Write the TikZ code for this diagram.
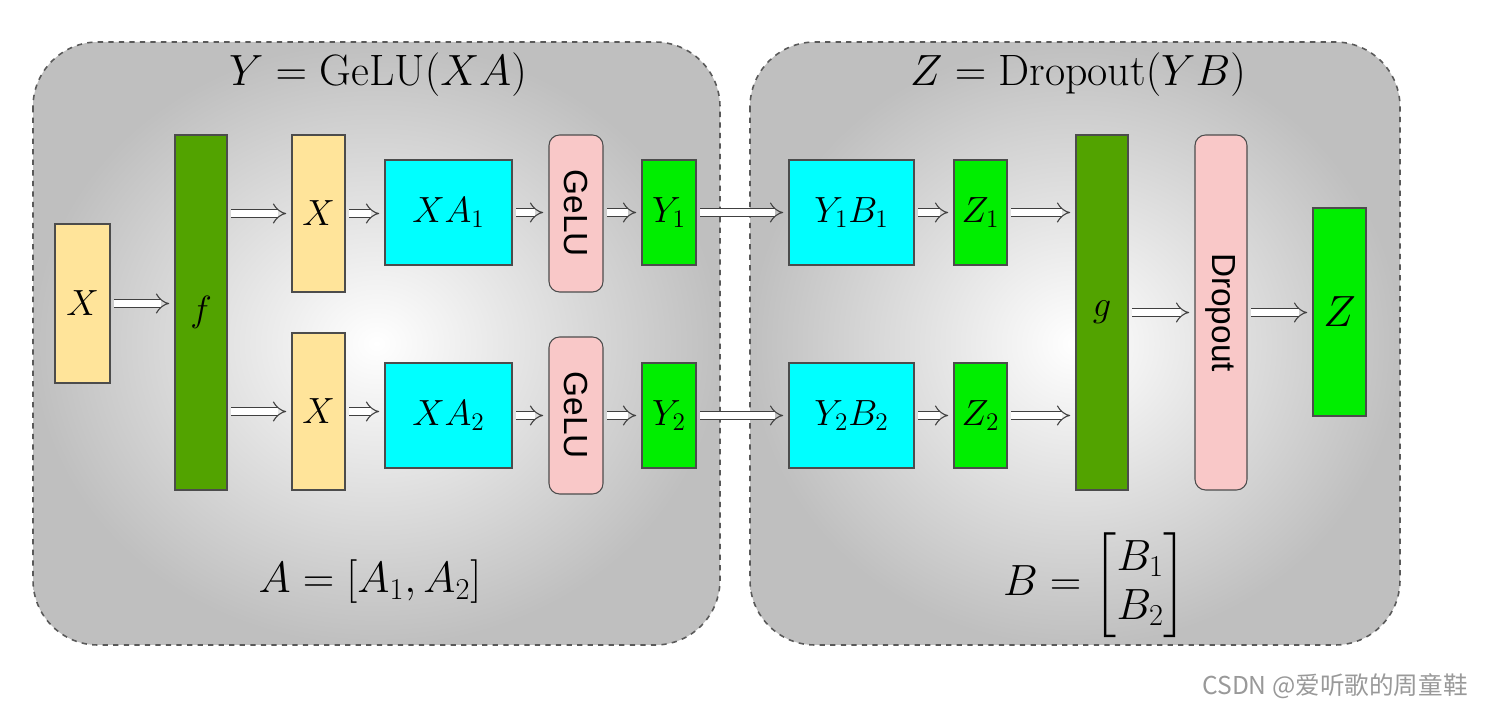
\documentclass[tikz,border=0pt]{standalone}
\usepackage{fontspec}
\usepackage{amsmath}
\setsansfont{Liberation Sans}
\newfontfamily\cjkfont{Noto Sans CJK SC}
\usetikzlibrary{arrows.meta}
\definecolor{cyel}{HTML}{FFE49A}
\definecolor{cdg}{HTML}{52A300}
\definecolor{ccy}{HTML}{00FFFF}
\definecolor{cpk}{HTML}{F9C8C8}
\definecolor{cbg}{HTML}{00EE00}
\begin{document}
\begin{tikzpicture}[x=0.02cm,y=-0.02cm,
  wh/.style 2 args={minimum width=#1*0.02cm, minimum height=#2*0.02cm, inner sep=0pt},
  box/.style={draw=black!70, line width=0.6pt, font=\fontsize{21}{23}\selectfont},
  yel/.style={box, fill=cyel},
  dg/.style={box, fill=cdg},
  cy/.style={box, fill=ccy},
  bg/.style={box, fill=cbg},
  pk/.style={box, fill=cpk, rounded corners=6pt, font=\sffamily\fontsize{19}{21}\selectfont},
  panel/.style={draw=black!65, dashed, line width=0.9pt, rounded corners=1.3cm, inner color=white, middle color=black!8, outer color=black!25},
  dar/.style={draw=black!75, line width=0.6pt, double=white, double distance=3.5pt, -{Implies}, shorten >=3pt, shorten <=2pt}]
\useasboundingbox (0,0) rectangle (1492,712);
\shade[panel] (33,42) rectangle (720,645);
\shade[panel] (750,42) rectangle (1400,645);
\node (t1) at (378,75) {\fontsize{25}{27}\selectfont $Y=\mathrm{GeLU}(XA)$};
\node (t2) at (1078,75) {\fontsize{25}{27}\selectfont $Z=\mathrm{Dropout}(YB)$};
\node (ea) at (370,582) {\fontsize{27}{29}\selectfont $A=[A_1,A_2]$};
\node (eb) at (1095,585) {\fontsize{26}{28}\selectfont $B=\begin{bmatrix}B_1\\B_2\end{bmatrix}$};
\node[yel, wh={55}{159}] (xl) at (82.5,303.5) {$X$};
\node[dg, wh={52}{355}] (f) at (201,312.5) {$f$};
\node[yel, wh={53}{157}] (xt) at (318.5,213.5) {$X$};
\node[yel, wh={53}{157}] (xb) at (318.5,411.5) {$X$};
\node[cy, wh={127}{105}] (xa1) at (448.5,212.5) {$XA_1$};
\node[cy, wh={127}{105}] (xa2) at (448.5,415.5) {$XA_2$};
\node[pk, wh={54}{157}] (ge1) at (576,213.5) {\rotatebox{-90}{GeLU}};
\node[pk, wh={54}{157}] (ge2) at (576,415.5) {\rotatebox{-90}{GeLU}};
\node[bg, wh={54}{105}] (y1) at (669,212.5) {$Y_1$};
\node[bg, wh={54}{105}] (y2) at (669,415.5) {$Y_2$};
\node[cy, wh={125}{105}] (yb1) at (851.5,212.5) {$Y_1B_1$};
\node[cy, wh={125}{105}] (yb2) at (851.5,415.5) {$Y_2B_2$};
\node[bg, wh={53}{105}] (z1) at (980.5,212.5) {$Z_1$};
\node[bg, wh={53}{105}] (z2) at (980.5,415.5) {$Z_2$};
\node[dg, wh={52}{355}] (g) at (1102,312.5) {$g$};
\node[pk, wh={52}{355}] (dr) at (1221,312.5) {\rotatebox{-90}{Dropout}};
\node[bg, wh={53}{208}, font=\fontsize{25}{27}\selectfont] (z) at (1339.5,312) {$Z$};
\draw[dar] (xl) -- (f.west |- xl);
\draw[dar] (f.east |- xt) -- (xt);
\draw[dar] (f.east |- xb) -- (xb);
\draw[dar] (xt) -- (xa1.west |- xt);
\draw[dar] (xb) -- (xa2.west |- xb);
\draw[dar] (xa1) -- (ge1.west |- xa1);
\draw[dar] (xa2) -- (ge2.west |- xa2);
\draw[dar] (ge1.east |- y1) -- (y1);
\draw[dar] (ge2.east |- y2) -- (y2);
\draw[dar] (y1) -- (yb1);
\draw[dar] (y2) -- (yb2);
\draw[dar] (yb1) -- (z1);
\draw[dar] (yb2) -- (z2);
\draw[dar] (z1) -- (g.west |- z1);
\draw[dar] (z2) -- (g.west |- z2);
\draw[dar] (g) -- (dr);
\draw[dar] (dr) -- (z.west |- dr);
\node[text=black!40, font=\cjkfont\fontsize{14}{16}\selectfont] (wm) at (1335,686) {CSDN @爱听歌的周童鞋};
\end{tikzpicture}
\end{document}
